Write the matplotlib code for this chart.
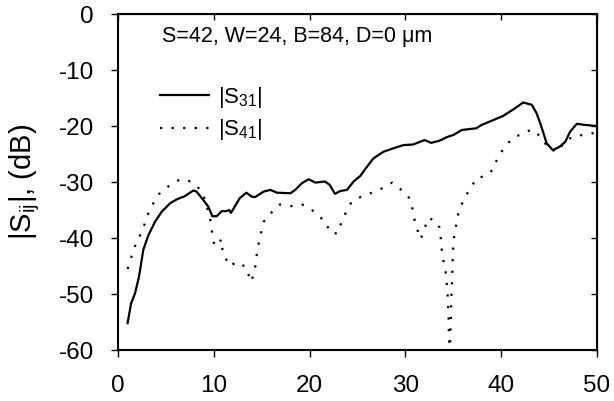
import matplotlib
matplotlib.use("Agg")
import matplotlib.pyplot as plt

plt.rcParams['font.family'] = ['Liberation Sans', 'DejaVu Sans']
plt.rcParams['mathtext.fontset'] = 'custom'
plt.rcParams['mathtext.rm'] = 'Liberation Sans'
plt.rcParams['mathtext.default'] = 'regular'

# |S31| (solid)
f31 = [1.0, 1.36, 1.77, 2.19, 2.64, 3.17, 3.86, 4.56, 5.43, 6.12, 7.0, 7.86, 8.2, 8.9,
       9.43, 9.85, 10.3, 10.82, 11.3, 11.6, 11.8, 12.7, 13.4, 13.96, 14.3, 15.2, 15.9,
       16.6, 18.0, 18.5, 19.2, 19.9, 20.6, 21.6, 22.1, 22.65, 23.2, 23.9, 24.6, 25.3,
       25.8, 26.65, 27.7, 28.7, 29.8, 30.8, 32.0, 32.7, 33.6, 34.3, 35.0, 35.9, 37.4,
       37.96, 38.8, 40.2, 41.3, 42.3, 43.2, 43.7, 44.2, 44.75, 45.4, 46.1, 46.7, 47.2,
       47.9, 48.75, 50.0]
s31 = [-55.2, -51.7, -49.9, -46.9, -42.1, -39.5, -37.1, -35.3, -33.8, -33.1, -32.5, -31.5,
       -31.7, -33.2, -34.4, -36.1, -36.1, -35.2, -35.2, -35.0, -35.5, -32.9, -31.9, -32.6,
       -32.7, -31.7, -31.4, -31.9, -32.0, -31.4, -30.2, -29.5, -30.1, -29.9, -30.5, -32.1,
       -31.6, -31.4, -29.9, -28.9, -27.7, -25.8, -24.6, -24.0, -23.4, -23.3, -22.5, -23.0,
       -22.6, -22.0, -21.6, -20.7, -20.4, -19.8, -19.2, -18.2, -17.0, -15.8, -16.2, -17.7,
       -20.1, -23.1, -24.3, -23.7, -22.8, -21.0, -19.6, -19.8, -20.0]

# |S41| (dotted)
f41 = [1.0, 1.36, 1.7, 2.2, 2.68, 3.06, 3.58, 4.3, 5.46, 6.5, 7.6, 8.56, 9.08, 9.67, 9.8,
       9.99, 10.3, 10.8, 10.9, 11.3, 11.7, 12.2, 13.2, 13.95, 14.1, 14.4, 14.5, 14.7,
       14.96, 15.2, 16.1, 16.9, 18.1, 19.2, 20.2, 20.9, 21.7, 22.1, 22.9, 23.3, 23.8,
       24.4, 25.4, 26.5, 27.6, 28.6, 29.5, 30.3, 30.7, 30.9, 31.2, 31.6, 32.0, 32.4,
       33.2, 33.6, 33.7, 33.8, 33.96, 34.2, 34.3, 34.4, 34.5, 34.55, 34.62, 34.7, 34.76,
       34.8, 34.9, 34.95, 35.0, 35.1, 35.3, 35.5, 35.9, 36.4, 36.9, 37.4, 38.4, 39.2,
       39.6, 40.3, 41.2, 42.2, 43.2, 44.2, 45.0, 46.0, 46.6, 47.6, 48.5, 49.5, 50.0]
s41 = [-45.5, -43.6, -41.7, -39.9, -38.0, -36.0, -34.1, -32.1, -30.5, -29.5, -29.9, -31.3,
       -33.1, -37.0, -38.9, -40.8, -41.5, -40.2, -42.0, -43.9, -43.5, -45.1, -44.9, -47.8,
       -46.6, -44.6, -42.7, -40.8, -38.9, -37.1, -35.3, -34.0, -34.3, -34.0, -34.9, -36.0,
       -37.1, -39.0, -39.2, -37.3, -35.4, -33.5, -32.6, -31.9, -31.1, -30.1, -31.3, -32.5,
       -34.4, -36.3, -38.3, -40.2, -38.3, -36.4, -37.0, -38.2, -40.2, -42.1, -43.9, -45.9,
       -47.8, -49.7, -53.5, -57.3, -60.5, -57.3, -53.5, -50.5, -46.7, -43.3, -41.5, -39.6,
       -37.7, -35.8, -33.9, -32.2, -30.9, -29.3, -28.9, -27.7, -25.8, -23.9, -22.1, -21.4,
       -20.6, -22.0, -24.2, -24.5, -22.8, -21.8, -21.6, -21.3, -21.2]

xticks = [0, 10, 20, 30, 40, 50]
yticks = [0, -10, -20, -30, -40, -50, -60]

fig = plt.figure(figsize=(6.14, 4.01), dpi=100)
ax = fig.add_axes([0.1922, 0.127, 0.780, 0.838])

ax.plot(f31, s31, color='black', lw=1.6, label='|S$_{31}$|')
ax.plot(f41, s41, color='black', lw=1.6, linestyle=(0, (1, 4.2)), label='|S$_{41}$|')

ax.set_xlim(0, 50)
ax.set_ylim(-60, 0)
ax.set_xticks(xticks)
ax.set_yticks(yticks)
ax.set_yticklabels([str(v) for v in yticks])
ax.tick_params(direction='out', length=5, width=1, labelsize=17.5)
ax.tick_params(axis='x', pad=13)
ax.tick_params(axis='y', pad=12.5)
for s in ax.spines.values():
    s.set_linewidth(1.5)

top = ax.secondary_xaxis('top')
top.set_xticks(xticks)
top.tick_params(direction='in', length=4, width=1, labeltop=False)
right = ax.secondary_yaxis('right')
right.set_yticks(yticks)
right.tick_params(direction='in', length=4, width=1, labelright=False)

ax.set_ylabel('|S$_{ij}$|, (dB)', fontsize=21, labelpad=12)

ax.text(0.092, 0.932, 'S=42, W=24, B=84, D=0 μm', transform=ax.transAxes,
        fontsize=15.5, va='center', ha='left')

ax.legend(loc='upper left', bbox_to_anchor=(0.088, 0.79), frameon=False,
          borderpad=0, borderaxespad=0, fontsize=16, handlelength=2.2,
          handletextpad=0.4, labelspacing=0.35)

fig.savefig('out.png', dpi=100)
